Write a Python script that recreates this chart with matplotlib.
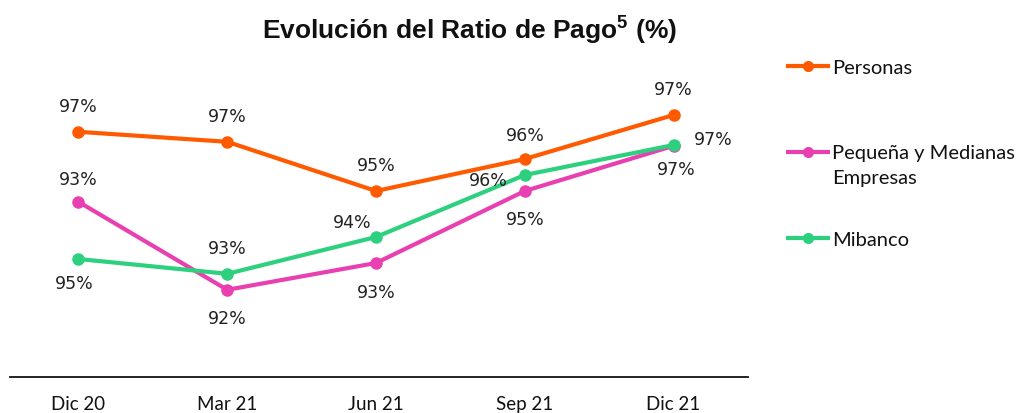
import matplotlib
matplotlib.use('Agg')
import matplotlib.pyplot as plt
import numpy as np
from matplotlib.lines import Line2D
from matplotlib.offsetbox import DrawingArea

# data
periods = ['Dic 20', 'Mar 21', 'Jun 21', 'Sep 21', 'Dic 21']
personas = [96.68, 96.43, 95.2, 96.0, 97.1]
pymes = [94.93, 92.73, 93.4, 95.2, 96.33]
mibanco = [93.5, 93.13, 94.05, 95.6, 96.35]
personas_lbl = ['97%', '97%', '95%', '96%', '97%']
pymes_lbl = ['93%', '92%', '93%', '95%', '97%']
mibanco_lbl = ['95%', '93%', '94%', '96%', '97%']
series_names = ['Personas', 'Pequeña y Medianas\nEmpresas', 'Mibanco']

colors = ['#FF5A00', '#E840B0', '#2CD07E']
# label offsets in pixels (dx, dy)
off_personas = [(0, 26), (0, 26), (0, 26), (0, 24), (0, 26)]
off_pymes = [(0, 23), (0, -28), (0, -29), (0, -28), (3, -23)]
off_mibanco = [(-4, -24), (0, 26), (-24, 15), (-37, -5), (40, 6)]

plt.rcParams['mathtext.fontset'] = 'custom'
plt.rcParams['mathtext.rm'] = 'Liberation Sans:bold'
plt.rcParams['mathtext.bf'] = 'Liberation Sans:bold'

fig = plt.figure(figsize=(10.2, 4.14), dpi=100)
ax = fig.add_axes([10/1020, 36/414, 738/1020, 318/414])

x = list(range(len(periods)))
data = [(personas, personas_lbl, off_personas),
        (pymes, pymes_lbl, off_pymes),
        (mibanco, mibanco_lbl, off_mibanco)]
lines = []
for (vals, lbls, offs), c in zip(data, colors):
    ln, = ax.plot(x, vals, color=c, lw=3, marker='o', ms=8, solid_capstyle='round')
    lines.append(ln)
    for xi, v, t, (dx, dy) in zip(x, vals, lbls, offs):
        ax.annotate(t, (xi, v), xytext=(dx * 0.72, dy * 0.72), textcoords='offset points',
                    ha='center', va='center', fontsize=12.5, color='#222222',
                    family='DejaVu Sans')

ax.set_xlim(-0.46, 4.5)
ax.set_ylim(90.55, 98.5)
for s in ['top', 'right', 'left']:
    ax.spines[s].set_visible(False)
ax.spines['bottom'].set_linewidth(1.3)
ax.spines['bottom'].set_color('#111111')
ax.set_yticks([])
ax.set_xticks(x)
ax.set_xticklabels(periods, family='Lato', fontsize=13.5, color='#111111')
ax.tick_params(axis='x', length=0, pad=13)

fig.text(469/1020, 1 - 30/414, 'Evolución del Ratio de Pago$^{5}$ (%)', ha='center', va='center',
         family='Liberation Sans', fontweight='bold', fontsize=19, color='#111111')

# legend entries placed individually
leg_y = [68, 166, 240]
for ln, name, yy in zip(lines, series_names, leg_y):
    h = Line2D([], [], color=ln.get_color(), lw=3, marker='o', ms=7)
    lg = fig.legend([h], [name], loc='center left', bbox_to_anchor=(788/1020, 1 - yy/414),
                    frameon=False, handlelength=2.0, handletextpad=0.2, borderpad=0,
                    borderaxespad=0, prop={'family': 'Lato', 'size': 14.5})
    for t in lg.get_texts():
        t.set_color('#111111')
        t.set_linespacing(1.55)
    if '\n' in name:
        # keep handle on the first text line, as in the reference
        for da in lg.findobj(DrawingArea):
            for art in da.get_children():
                if isinstance(art, Line2D):
                    art.set_ydata(np.asarray(art.get_ydata()) + 9.0)

fig.savefig('out.png', dpi=100)
